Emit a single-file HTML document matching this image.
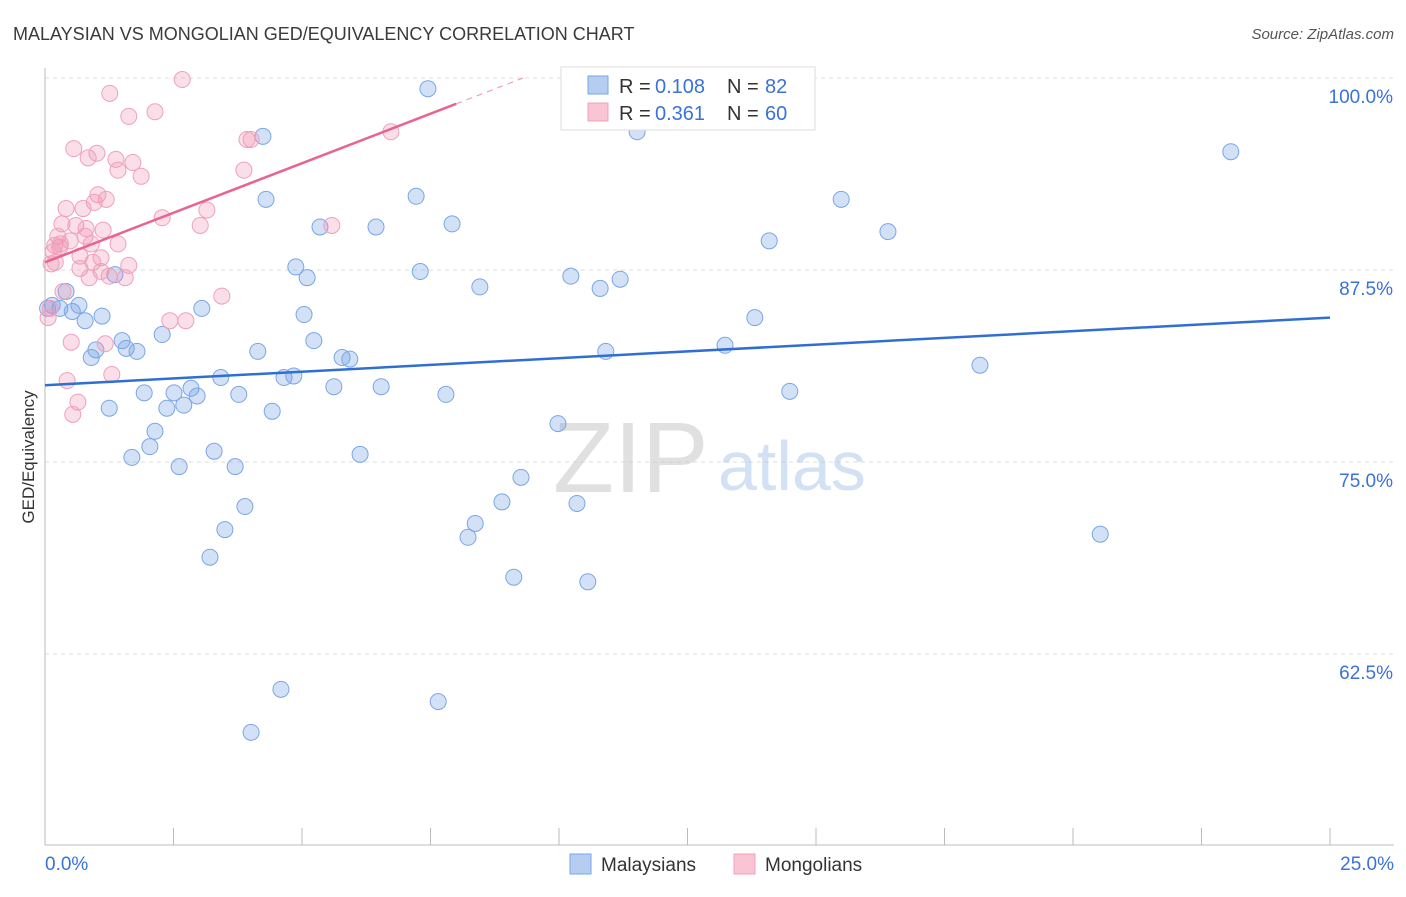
<!DOCTYPE html>
<html><head><meta charset="utf-8"><style>
body{margin:0;background:#fff;font-family:"Liberation Sans",sans-serif;}
svg text{font-family:"Liberation Sans",sans-serif;}
</style></head><body>
<svg id="chart" width="1406" height="892" xmlns="http://www.w3.org/2000/svg">
<text x="13" y="40" font-size="18" fill="#3a3a3a">MALAYSIAN VS MONGOLIAN GED/EQUIVALENCY CORRELATION CHART</text>
<text x="1394" y="39" font-size="15" fill="#555" text-anchor="end" font-style="italic">Source: ZipAtlas.com</text>
<g id="grid"></g>
<g id="axes"></g>
<text x="553" y="492" font-size="100" fill="#c8c8c8" opacity="0.55" font-family="Liberation Serif">ZIP</text>
<text x="718" y="490" font-size="70" fill="#a8c4ea" opacity="0.5">atlas</text>
<g id="pts"></g>
<g id="lines"></g>
<text transform="translate(34,457) rotate(-90)" font-size="17" fill="#333" text-anchor="middle">GED/Equivalency</text>
<g>
<rect x="561" y="67" width="254" height="63" fill="#fff" stroke="#ddd"/>
<rect x="588" y="76" width="20" height="18" fill="#b5cdf0" stroke="#7aa6e6"/>
<text x="619" y="93" font-size="20" fill="#333">R =</text>
<text x="655" y="93" font-size="20" fill="#3a72d8">0.108</text>
<text x="727" y="93" font-size="20" fill="#333">N =</text>
<text x="765" y="93" font-size="20" fill="#3a72d8">82</text>
<rect x="588" y="103" width="20" height="18" fill="#f9c4d4" stroke="#f0a0bc"/>
<text x="619" y="120" font-size="20" fill="#333">R =</text>
<text x="655" y="120" font-size="20" fill="#3a72d8">0.361</text>
<text x="727" y="120" font-size="20" fill="#333">N =</text>
<text x="765" y="120" font-size="20" fill="#3a72d8">60</text>
</g>
<g>
<rect x="570" y="854" width="21" height="20" fill="#b5cdf0" stroke="#7aa6e6"/>
<text x="601" y="871" font-size="19" fill="#333">Malaysians</text>
<rect x="734" y="854" width="21" height="20" fill="#f9c4d4" stroke="#f0a0bc"/>
<text x="765" y="871" font-size="19" fill="#333">Mongolians</text>
</g>
</svg>
<script>
const yTicks=[100,87.5,75,62.5];
const yTickLabels=["100.0%","87.5%","75.0%","62.5%"];
const xTickLabels=["0.0%","25.0%"];
const blueX=[7.45,11.52,23.07,4.24,4.30,7.22,15.49,5.35,6.44,7.92,16.40,14.09,4.88,5.10,7.30,10.23,11.19,8.46,10.80,1.36,0.41,0.14,0.29,0.53,0.66,0.78,1.11,3.05,5.04,13.81,2.28,1.50,0.99,0.90,1.58,1.79,5.23,4.14,5.78,5.93,10.91,13.23,18.19,3.42,4.65,4.84,5.62,6.54,2.84,1.93,2.51,2.96,3.77,7.80,14.49,1.25,2.37,2.70,4.42,9.98,2.14,2.04,1.69,3.29,2.61,3.70,6.13,9.26,8.89,10.35,3.89,8.37,8.23,3.50,3.21,20.53,9.12,10.56,4.59,7.65,4.01,0.05];
const blueY=[99.3,96.5,95.2,96.2,92.1,92.3,92.1,90.3,90.3,90.5,90.0,89.4,87.7,87.0,87.4,87.1,86.9,86.4,86.3,87.2,86.1,85.2,85.0,84.8,85.2,84.2,84.5,85.0,84.6,84.4,83.3,82.9,82.3,81.8,82.4,82.2,82.9,82.2,81.8,81.7,82.2,82.6,81.3,80.5,80.5,80.6,79.9,79.9,79.8,79.5,79.5,79.3,79.4,79.4,79.6,78.5,78.5,78.7,78.3,77.5,77.0,76.0,75.3,75.7,74.7,74.7,75.5,74.0,72.4,72.3,72.1,71.0,70.1,70.6,68.8,70.3,67.5,67.2,60.2,59.4,57.4,85.0];
const pinkX=[2.67,1.26,2.14,1.63,4.01,3.93,6.73,0.56,1.01,0.84,1.38,1.71,1.42,1.87,3.87,1.03,1.19,0.96,0.41,0.74,3.15,2.28,0.33,0.60,0.80,1.13,3.02,5.58,0.25,0.78,0.49,0.90,1.42,0.19,0.29,0.16,0.68,1.09,0.93,0.12,1.63,0.68,1.09,1.25,0.86,1.56,0.35,3.44,0.06,2.43,2.74,1.17,0.51,1.30,0.43,0.64,0.54,0.30,0.20,0.10];
const pinkY=[99.9,99.0,97.8,97.5,96.0,96.0,96.5,95.4,95.1,94.8,94.7,94.5,94.0,93.6,94.0,92.4,92.1,91.9,91.5,91.5,91.4,90.9,90.5,90.4,90.2,90.1,90.4,90.4,89.7,89.7,89.4,89.2,89.2,89.1,89.0,88.7,88.4,88.3,88.0,87.9,87.8,87.6,87.4,87.1,87.0,87.0,86.1,85.8,84.4,84.2,84.2,82.7,82.8,80.7,80.3,78.9,78.1,89.2,88.0,85.0];
const blueTrend=[80.0,84.4];
const pinkTrend=[88.0,1.29];
const NS="http://www.w3.org/2000/svg";
const X=v=>45+v*51.4, Y=v=>78+(100-v)*15.36;
function mk(tag,attrs,parent){const e=document.createElementNS(NS,tag);for(const k in attrs)e.setAttribute(k,attrs[k]);parent.appendChild(e);return e;}
const grid=document.getElementById('grid'),axes=document.getElementById('axes'),pts=document.getElementById('pts'),lines=document.getElementById('lines');
yTicks.forEach((t,i)=>{
 const l=mk('line',{x1:45,x2:1394,y1:Y(t),y2:Y(t),stroke:'#ddd','stroke-dasharray':'4,4'},grid);
 
 
 const tx=mk('text',{x:1393,y:Y(t)+25,'font-size':19,fill:'#3a72d8','text-anchor':'end'},axes);
 tx.textContent=yTickLabels[i];
 
 
});
const ax=mk('line',{x1:45,x2:1394,y1:845,y2:845,stroke:'#bbb'},axes);


const ay=mk('line',{x1:45,x2:45,y1:68,y2:845,stroke:'#bbb'},axes);


for(let i=0;i<=10;i++){
 const t=mk('line',{x1:X(i*2.5),x2:X(i*2.5),y1:845,y2:i==0?845:828,stroke:'#bbb'},axes);
 
 
}
[[0,'start',45],[25,'end',1394]].forEach((d,i)=>{
 const t=mk('text',{x:d[2],y:870,'font-size':19,fill:'#3a72d8','text-anchor':d[1]},axes);
 t.textContent=xTickLabels[i];
 
 
});
blueX.forEach((x,i)=>{
 const c=mk('circle',{cx:X(x),cy:Y(blueY[i]),r:8,fill:'rgba(110,155,230,0.3)',stroke:'#7aa6e6','stroke-width':1},pts);
 
 
});
pinkX.forEach((x,i)=>{
 const c=mk('circle',{cx:X(x),cy:Y(pinkY[i]),r:8,fill:'rgba(240,150,180,0.3)',stroke:'#f0a0bc','stroke-width':1},pts);
 
 
});
const bl=mk('line',{x1:X(0),y1:Y(blueTrend[0]),x2:X(25),y2:Y(blueTrend[1]),stroke:'#2f6fd4','stroke-width':2.5},lines);


const pl=mk('line',{x1:X(0),y1:Y(pinkTrend[0]),x2:X(8),y2:Y(pinkTrend[0]+8*pinkTrend[1]),stroke:'#e8648f','stroke-width':2.5},lines);


const pd=mk('line',{x1:X(8),y1:Y(pinkTrend[0]+8*pinkTrend[1]),x2:X(9.3),y2:Y(pinkTrend[0]+9.3*pinkTrend[1]),stroke:'#f0a0bc','stroke-width':1.2,'stroke-dasharray':'6,5'},lines);


</script>
</body></html>
